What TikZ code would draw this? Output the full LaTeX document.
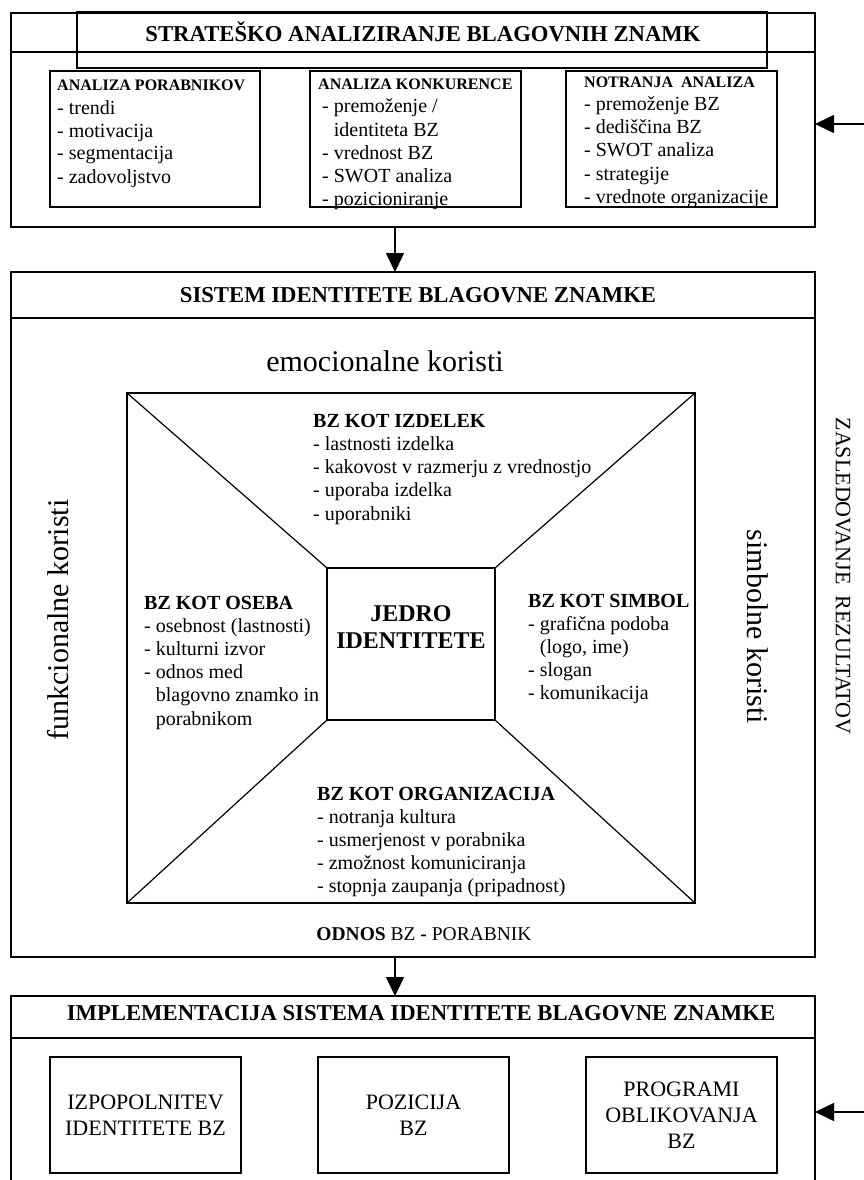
\documentclass[tikz,border=0pt]{standalone}
\usepackage{fontspec}
\setmainfont{Liberation Serif}
\usetikzlibrary{arrows.meta}
\begin{document}
\begin{tikzpicture}[x=1pt,y=-1pt,
  frame/.style={draw, line width=1.6pt, inner sep=0pt, outer sep=0pt},
  subbox/.style={draw, line width=1.5pt, inner sep=0pt, outer sep=0pt},
  diag/.style={line width=1.2pt},
  arr/.style={line width=1.5pt, -{Triangle[length=19pt,width=18pt]}},
  title/.style={font=\bfseries\fontsize{22.7}{26}\selectfont, anchor=base, inner sep=0pt},
  subhead/.style={font=\bfseries\fontsize{16}{19}\selectfont, anchor=base west, inner sep=0pt},
  item/.style={font=\fontsize{20}{23}\selectfont, anchor=base west, inner sep=0pt},
  sechead/.style={font=\bfseries\fontsize{20}{23}\selectfont, anchor=base west, inner sep=0pt},
  side/.style={font=\fontsize{30}{34}\selectfont, inner sep=0pt},
  implbox/.style={subbox, minimum width=191pt, minimum height=116pt, align=center, font=\fontsize{22}{26}\selectfont}
]
\useasboundingbox (0,0) rectangle (864,1180);
\clip (0,0) rectangle (864,1180);

% ---------- top section ----------
\node[frame, minimum width=804pt, minimum height=214pt] (top) at (413,120) {};
\node[frame, minimum width=690pt, minimum height=56pt] (ttlbox) at (422,40) {};
\draw[line width=1.6pt] (11,52) -- (815,52);
\node[title] (ttl) at (423,42) {STRATEŠKO ANALIZIRANJE BLAGOVNIH ZNAMK};

\node[subbox, minimum width=210pt, minimum height=136pt] (pa) at (155,139) {};
\node[subbox, minimum width=211pt, minimum height=136pt] (pk) at (415.5,139) {};
\node[subbox, minimum width=211pt, minimum height=136pt] (pn) at (671.5,139) {};

\node[subhead] (pa-h) at (57,91) {ANALIZA PORABNIKOV};
\foreach \t [count=\i] in {- trendi, - motivacija, - segmentacija, - zadovoljstvo}
  \node[item] (pa-\i) at (57,{91+\i*23}) {\t};

\node[subhead] (pk-h) at (318,90) {ANALIZA KONKURENCE};
\foreach \t [count=\i] in {- premoženje /, \phantom{- }identiteta BZ, - vrednost BZ, - SWOT analiza, - pozicioniranje}
  \node[item] (pk-\i) at (322,{90+\i*23}) {\t};

\node[subhead] (pn-h) at (584,88) {NOTRANJA\ \ ANALIZA};
\foreach \t [count=\i] in {- premoženje BZ, - dediščina BZ, - SWOT analiza, - strategije, - vrednote organizacije}
  \node[item] (pn-\i) at (584,{88+\i*23}) {\t};

% ---------- system section ----------
\node[frame, minimum width=804pt, minimum height=685pt] (sys) at (413,614.5) {};
\draw[line width=1.6pt] (11,318) -- (815,318);
\node[title] (systtl) at (418,302) {SISTEM IDENTITETE BLAGOVNE ZNAMKE};

\node[font=\fontsize{30}{34}\selectfont, anchor=base, inner sep=0pt] (emo) at (385,371) {emocionalne koristi};
\node[side, rotate=90] (fk) at (58,620) {funkcionalne koristi};
\node[side, rotate=-90] (sk) at (758,627) {simbolne koristi};
\node[font=\fontsize{22}{26}\selectfont, rotate=-90, inner sep=0pt] (zr) at (843,576) {ZASLEDOVANJE\ \ REZULTATOV};

\node[subbox, minimum width=568pt, minimum height=510pt] (inner) at (411,648) {};
\node[subbox, minimum width=168pt, minimum height=152pt] (core) at (411,644) {};
\draw[diag] (inner.north west) -- (core.north west);
\draw[diag] (inner.north east) -- (core.north east);
\draw[diag] (inner.south west) -- (core.south west);
\draw[diag] (inner.south east) -- (core.south east);

\node[font=\bfseries\fontsize{24}{27}\selectfont, anchor=base, inner sep=0pt] (core-1) at (411,621) {JEDRO};
\node[font=\bfseries\fontsize{24}{27}\selectfont, anchor=base, inner sep=0pt] (core-2) at (411,648) {IDENTITETE};

\node[sechead] (iz-h) at (313,427) {BZ KOT IZDELEK};
\foreach \t [count=\i] in {- lastnosti izdelka, - kakovost v razmerju z vrednostjo, - uporaba izdelka, - uporabniki}
  \node[item] (iz-\i) at (313,{427+\i*23.3}) {\t};

\node[sechead] (os-h) at (144,609) {BZ KOT OSEBA};
\foreach \t [count=\i] in {- osebnost (lastnosti), - kulturni izvor, - odnos med, \phantom{- }blagovno znamko in, \phantom{- }porabnikom}
  \node[item] (os-\i) at (144,{609+\i*23.2}) {\t};

\node[sechead] (si-h) at (528,607) {BZ KOT SIMBOL};
\foreach \t [count=\i] in {- grafična podoba, {\phantom{- }(logo, ime)}, - slogan, - komunikacija}
  \node[item] (si-\i) at (528,{607+\i*23.2}) {\t};

\node[sechead] (or-h) at (317,800) {BZ KOT ORGANIZACIJA};
\foreach \t [count=\i] in {- notranja kultura, - usmerjenost v porabnika, - zmožnost komuniciranja, - stopnja zaupanja (pripadnost)}
  \node[item] (or-\i) at (317,{800+\i*23.2}) {\t};

\node[font=\fontsize{19.5}{22}\selectfont, anchor=base, inner sep=0pt] (odnos) at (424,940) {\textbf{ODNOS} BZ \textbf{-} PORABNIK};

% ---------- implementation section ----------
\node[frame, minimum width=804pt, minimum height=204pt] (impl) at (413,1098) {};
\draw[line width=1.6pt] (11,1038) -- (815,1038);
\node[title] (impltl) at (421,1020) {IMPLEMENTACIJA SISTEMA IDENTITETE BLAGOVNE ZNAMKE};

\node[implbox] (ib1) at (145.5,1115) {IZPOPOLNITEV\\IDENTITETE BZ};
\node[implbox] (ib2) at (413.5,1115) {POZICIJA\\BZ};
\node[implbox] (ib3) at (681.5,1115) {PROGRAMI\\OBLIKOVANJA\\BZ};

% ---------- arrows ----------
\coordinate (ax) at (395,0);
\coordinate (in1) at (864,124);
\coordinate (in2) at (864,1112);
\draw[arr] (top.south -| ax) -- (sys.north -| ax);
\draw[arr] (sys.south -| ax) -- (impl.north -| ax);
\draw[arr] (in1) -- (in1 -| top.east);
\draw[arr] (in2) -- (in2 -| impl.east);
\end{tikzpicture}
\end{document}
